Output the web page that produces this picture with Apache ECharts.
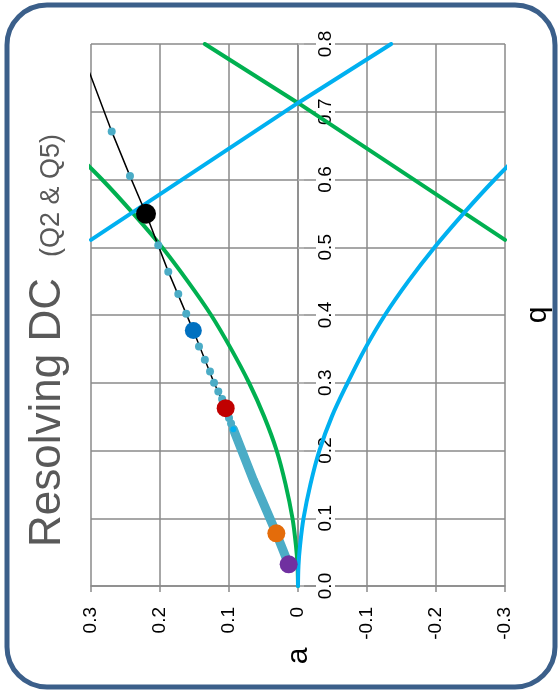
<!DOCTYPE html>
<html><head><meta charset="utf-8">
<script src="https://cdn.jsdelivr.net/npm/echarts@6/dist/echarts.min.js"></script>
<style>html,body{margin:0;padding:0;background:#fff}#c{width:559px;height:696px}</style>
</head><body><div id="c"></div>
<script>
// Tick labels
const aTickLabels = ['0.3','0.2','0.1','0','-0.1','-0.2','-0.3'];
const qTickLabels = ['0.0','0.1','0.2','0.3','0.4','0.5','0.6','0.7','0.8'];
// Curves, points as [a, q]
const greenCurve = [[0,0],[0.0007,0.03],[0.003,0.06],[0.008,0.1],[0.018,0.15],[0.031,0.2],[0.049,0.25],[0.071,0.3],[0.097,0.35],[0.126,0.4],[0.16,0.45],[0.197,0.5],[0.239,0.55],[0.284,0.6],[0.334,0.65]];
const blueCurve = [[0,0],[-0.0007,0.03],[-0.003,0.06],[-0.008,0.1],[-0.018,0.15],[-0.031,0.2],[-0.049,0.25],[-0.072,0.3],[-0.097,0.35],[-0.126,0.4],[-0.16,0.45],[-0.198,0.5],[-0.24,0.55],[-0.285,0.6],[-0.334,0.65]];
const blueLine = [[0.3,0.511],[0,0.713],[-0.135,0.8]];
const greenLine = [[0.135,0.8],[0,0.713],[-0.3,0.511]];
const blackPath = [[0.0135,0.032],[0.0314,0.0778],[0.0648,0.1566],[0.0937,0.2315],[0.1048,0.2625],[0.1217,0.300],[0.1517,0.377],[0.188,0.464],[0.2203,0.5495],[0.2435,0.605],[0.270,0.671],[0.3,0.752],[0.31,0.779]];
const denseBand = [[0.0135,0.032],[0.0314,0.0778],[0.0648,0.1566],[0.0937,0.2315]];
const iterDots = [[0.270,0.671],[0.2435,0.605],[0.2025,0.503],[0.188,0.464],[0.1735,0.431],[0.162,0.402],[0.1435,0.3535],[0.135,0.334],[0.1275,0.3166],[0.1217,0.300],[0.1155,0.287],[0.110,0.276],[0.100,0.248],[0.097,0.240]];
const cyanDot = [[0.0937,0.2315]];
const blackDot = [[0.2203,0.5495]];
const blueDot = [[0.1517,0.377]];
const redDot = [[0.1048,0.2625]];
const orangeDot = [[0.0314,0.0778]];
const purpleDot = [[0.0135,0.032]];

const FONT = '"Liberation Sans", Arial, sans-serif';
const GRID = '#8a8a8a';
const chart = echarts.init(document.getElementById('c'));

function curve(data, color, width, z, smooth) {
  return {type:'line', data, smooth, showSymbol:false, symbol:'none', z,
    lineStyle:{color, width, cap:'round'}, silent:true};
}
function dot(data, color, size, z) {
  return {type:'scatter', data, symbol:'circle', symbolSize:size, z,
    itemStyle:{color, opacity:1}, silent:true};
}

chart.setOption({
  animation:false,
  backgroundColor:'#fff',
  grid:{left:91, right:54, top:44, bottom:110},
  xAxis:{
    type:'value', min:-0.3, max:0.3, interval:0.1, inverse:true, position:'bottom',
    axisLine:{show:true, onZero:false, lineStyle:{color:GRID, width:1.5}},
    axisTick:{show:true, length:6, inside:false, lineStyle:{color:GRID, width:1.5}},
    splitLine:{show:true, lineStyle:{color:GRID, width:1.5}},
    axisLabel:{rotate:90, margin:21, color:'#000', fontSize:19, fontFamily:FONT,
      formatter:v => aTickLabels[Math.round((0.3 - v)*10)]}
  },
  yAxis:{
    type:'value', min:0, max:0.8, interval:0.1, position:'right', offset:-207,
    axisLine:{show:true, onZero:false, lineStyle:{color:GRID, width:1.5}},
    axisTick:{show:true, length:6, inside:false, lineStyle:{color:'#bbb', width:1.5}},
    splitLine:{show:true, lineStyle:{color:GRID, width:1.5}},
    axisLabel:{rotate:90, margin:18, color:'#000', fontSize:19, fontFamily:FONT,
      backgroundColor:'#fff', padding:[0,3],
      formatter:v => qTickLabels[Math.round(v*10)]}
  },
  series:[
    curve(greenCurve,'#00B050',4,2,0.35),
    curve(greenLine,'#00B050',4,2,false),
    curve(blueCurve,'#00B0F0',4,3,0.35),
    curve(blueLine,'#00B0F0',4,3,false),
    {type:'line', data:blackPath, smooth:false, showSymbol:false, symbol:'none', z:4,
      lineStyle:{color:'#000', width:1.5}, silent:true},
    {type:'line', data:denseBand, smooth:false, showSymbol:false, symbol:'none', z:5,
      lineStyle:{color:'#4BACC6', width:9, cap:'round', join:'round'}, silent:true},
    dot(iterDots,'#4BACC6',8,5),
    dot(cyanDot,'#00B0F0',6,6),
    dot(blackDot,'#000000',20,7),
    dot(blueDot,'#0070C0',17,7),
    dot(redDot,'#C00000',18,7),
    dot(orangeDot,'#E46C0A',18,7),
    dot(purpleDot,'#7030A0',18,7)
  ],
  graphic:[
    {type:'rect', shape:{x:7, y:5, width:548, height:682, r:40}, z:100, silent:true,
      style:{fill:'none', stroke:'#3B5F8A', lineWidth:5}},
    {type:'text', x:48, y:547, rotation:Math.PI/2, z:100, silent:true,
      style:{text:'Resolving DC', fill:'#595959', font:'44px ' + FONT, textAlign:'left', textVerticalAlign:'middle'}},
    {type:'text', x:52, y:257, rotation:Math.PI/2, z:100, silent:true,
      style:{text:'(Q2 & Q5)', fill:'#595959', font:'27px ' + FONT, textAlign:'left', textVerticalAlign:'middle'}},
    {type:'text', x:538, y:315, rotation:Math.PI/2, z:100, silent:true,
      style:{text:'q', fill:'#000', font:'30px ' + FONT, textAlign:'center', textVerticalAlign:'middle'}},
    {type:'text', x:299, y:656, rotation:Math.PI/2, z:100, silent:true,
      style:{text:'a', fill:'#000', font:'30px ' + FONT, textAlign:'center', textVerticalAlign:'middle'}}
  ]
});
</script>
</body></html>
